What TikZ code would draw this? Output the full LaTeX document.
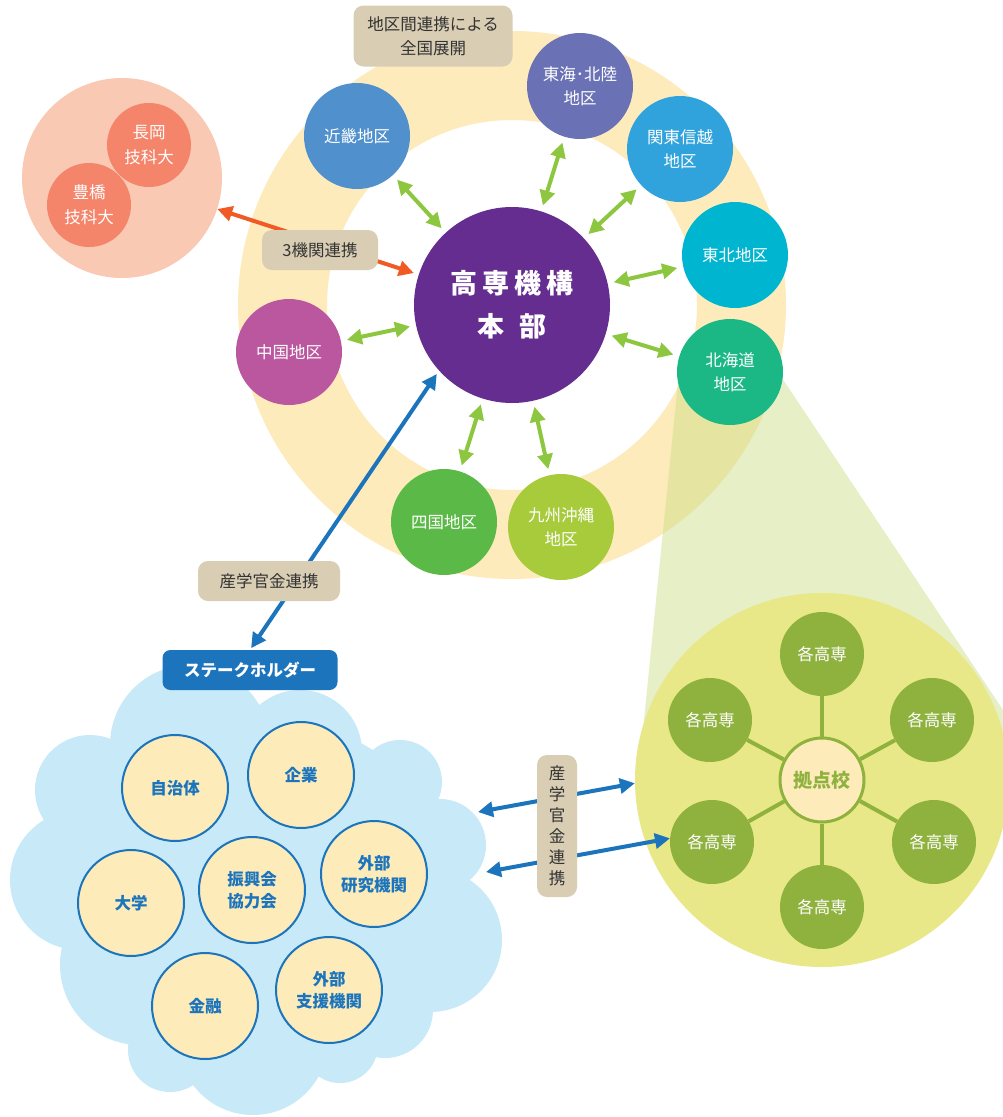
\documentclass[tikz,border=0pt]{standalone}
\usepackage{fontspec}
\setmainfont{Noto Sans CJK JP}
\usetikzlibrary{arrows.meta}
\definecolor{ringc}{HTML}{FEEBBC}
\definecolor{pinkbg}{HTML}{F9C9B4}
\definecolor{pinkc}{HTML}{F4846A}
\definecolor{hubc}{HTML}{652D8F}
\definecolor{kinkic}{HTML}{5090CC}
\definecolor{tokaic}{HTML}{6A71B5}
\definecolor{kantoc}{HTML}{30A3DC}
\definecolor{tohokuc}{HTML}{00B5CF}
\definecolor{hokkaidoc}{HTML}{1BB785}
\definecolor{kyushuc}{HTML}{A7CB3A}
\definecolor{shikokuc}{HTML}{5BBA47}
\definecolor{chugokuc}{HTML}{BB579F}
\definecolor{agreen}{HTML}{8DC63F}
\definecolor{aorange}{HTML}{F15A24}
\definecolor{ablue}{HTML}{1C75BC}
\definecolor{beige}{HTML}{D9CDB3}
\definecolor{labtext}{HTML}{333333}
\definecolor{cloudc}{HTML}{C8E9F8}
\definecolor{cream}{HTML}{FDEBBA}
\definecolor{bigcc}{HTML}{E8E888}
\definecolor{kosenc}{HTML}{8FB13E}
\definecolor{beamc}{HTML}{C8DC80}
\begin{document}
\begin{tikzpicture}[x=1pt,y=-1pt,
  region/.style={circle, inner sep=0pt, minimum size=106pt, text=white, align=center, font=\fontsize{16.5}{24}\selectfont},
  garrow/.style={draw=agreen, line width=4pt, {Triangle[length=15pt,width=15pt]}-{Triangle[length=15pt,width=15pt]}, shorten <=6pt, shorten >=6pt},
  oarrow/.style={draw=aorange, line width=4pt, {Triangle[length=15pt,width=15pt]}-{Triangle[length=15pt,width=15pt]}},
  barrow/.style={draw=ablue, line width=4pt, {Triangle[length=15pt,width=15pt]}-{Triangle[length=15pt,width=15pt]}},
  lab/.style={fill=beige, rounded corners=10pt, text=labtext, align=center, inner sep=0pt, font=\fontsize{16.5}{24}\selectfont},
  uni/.style={circle, fill=pinkc, inner sep=0pt, minimum size=84pt, text=white, align=center, font=\fontsize{16.5}{25}\selectfont},
  holder/.style={circle, fill=cream, draw=ablue, line width=2pt, inner sep=0pt, minimum size=106pt, text=ablue, align=center, font=\fontsize{16.5}{22}\selectfont\bfseries},
  kosen/.style={circle, fill=kosenc, inner sep=0pt, minimum size=84pt, text=white, font=\fontsize{16.5}{20}\selectfont},
  spoke/.style={draw=kosenc, line width=4pt}
]
\useasboundingbox (0,0) rectangle (1003,1117);
\fill[white] (0,0) rectangle (1003,1117);

% ring
\draw[ringc, line width=89pt] (512,305) circle[radius=229.5];

% beam
\fill[beamc, opacity=0.45] (679,372) -- (778,372) -- (1023,740) -- (640,760) -- cycle;

% big green cluster circle
\node[circle, fill=bigcc, inner sep=0pt, minimum size=374pt] (bigc) at (822,780) {};

% hub
\node[circle, fill=hubc, inner sep=0pt, minimum size=196pt, text=white, align=center, font=\fontsize{27}{43}\selectfont\bfseries] (hub) at (512,305)
  {高\hspace{5pt}専\hspace{5pt}機\hspace{5pt}構\\本\hspace{15pt}部};

% regions
\node[region, fill=kinkic] (kinki) at (357,136) {近畿地区};
\node[region, fill=tokaic] (tokai) at (580,86) {東海･北陸\\地区};
\node[region, fill=kantoc] (kanto) at (680,149) {関東信越\\地区};
\node[region, fill=tohokuc] (tohoku) at (735,255) {東北地区};
\node[region, fill=hokkaidoc] (hokkaido) at (730,372) {北海道\\地区};
\node[region, fill=kyushuc] (kyushu) at (561,527) {九州沖縄\\地区};
\node[region, fill=shikokuc] (shikoku) at (444,522) {四国地区};
\node[region, fill=chugokuc] (chugoku) at (289,352) {中国地区};

% green arrows
\foreach \r in {kinki,tokai,kanto,tohoku,hokkaido,kyushu,shikoku,chugoku}
  \draw[garrow] (\r) -- (hub);

% pink cluster
\node[circle, fill=pinkbg, inner sep=0pt, minimum size=200pt] (pink) at (122,178) {};
\node[uni] (nagaoka) at (149,145) {長岡\\技科大};
\node[uni] (toyohashi) at (89,205) {豊橋\\技科大};

% orange arrow
\draw[oarrow, shorten >=5pt] (pink) -- (hub);

% labels
\node[lab, minimum width=159pt, minimum height=61pt] (lblA) at (433,36) {地区間連携による\\全国展開};
\node[lab, minimum width=116pt, minimum height=40pt] (lblB) at (320,250) {3機関連携};

% cloud
\fill[cloudc] (190,745) circle[radius=80] (300,752) circle[radius=62] (400,782) circle[radius=42]
  (440,845) circle[radius=46] (430,940) circle[radius=72] (385,1010) circle[radius=48]
  (340,1045) circle[radius=38] (253,1040) circle[radius=75] (170,1050) circle[radius=42]
  (140,965) circle[radius=80] (80,880) circle[radius=70] (90,790) circle[radius=55]
  (265,890) ellipse[x radius=190, y radius=170];

\node[fill=ablue, rounded corners=8pt, minimum width=175pt, minimum height=40pt, inner sep=0pt, text=white, font=\fontsize{16.5}{20}\selectfont\bfseries] (stake) at (250,670) {ステークホルダー};

% hub - stakeholder arrow
\draw[barrow, shorten <=4pt, shorten >=2pt] (hub.222) -- (stake.north);
\node[lab, minimum width=142pt, minimum height=40pt] (lblC) at (269,581) {産学官金連携};

% stakeholders
\node[holder] (jichi) at (175,788) {自治体};
\node[holder] (kigyo) at (301,775) {企業};
\node[holder] (daigaku) at (131,903) {大学};
\node[holder] (shinko) at (252,890) {振興会\\協力会};
\node[holder] (kenkyu) at (374,874) {外部\\研究機関};
\node[holder] (kinyu) at (205,1006) {金融};
\node[holder] (shien) at (329,990) {外部\\支援機関};

% kosen cluster
\node[circle, fill=cream, draw=kosenc, line width=3pt, inner sep=0pt, minimum size=84pt, text=kosenc, font=\fontsize{19}{22}\selectfont\bfseries] (kc) at (822,780) {拠点校};
\node[kosen] (k1) at (822,654) {各高専};
\node[kosen] (k2) at (710,720) {各高専};
\node[kosen] (k3) at (932,720) {各高専};
\node[kosen] (k4) at (712,842) {各高専};
\node[kosen] (k5) at (934,842) {各高専};
\node[kosen] (k6) at (822,907) {各高専};
\foreach \k in {k1,k2,k3,k4,k5,k6}
  \draw[spoke] (kc) -- (\k);

% stakeholder - cluster arrows
\coordinate (ua) at (478,812);
\coordinate (la) at (486,872);
\draw[barrow] (ua) -- (bigc.181);
\draw[barrow] (la) -- (k4.175);
\node[lab, minimum width=40pt, minimum height=142pt, font=\fontsize{16.5}{21}\selectfont] (lblD) at (557,826) {産\\学\\官\\金\\連\\携};
\end{tikzpicture}
\end{document}
